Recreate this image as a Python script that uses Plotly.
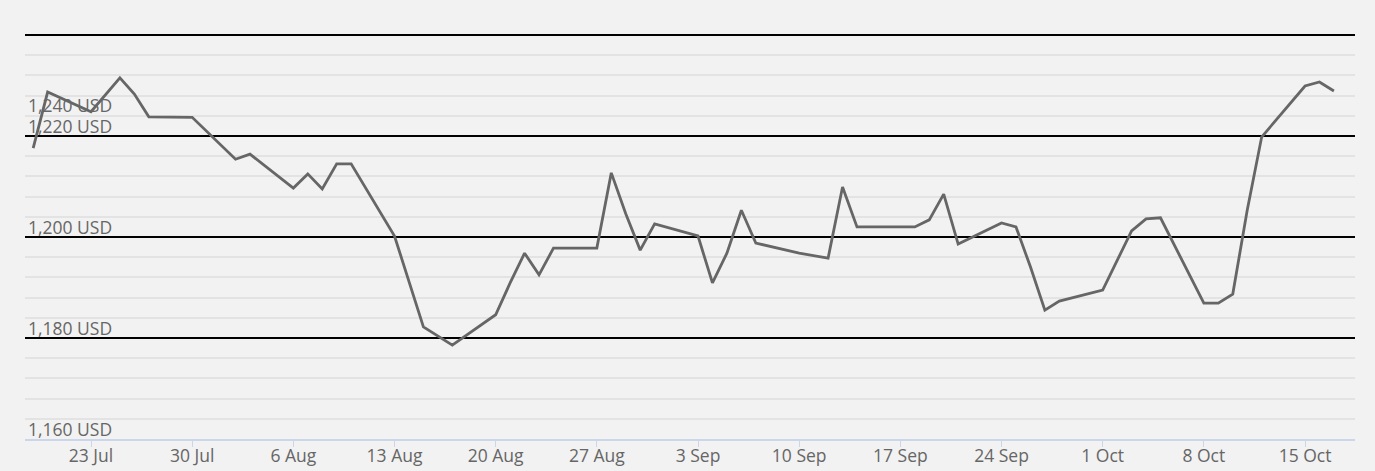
import plotly.graph_objects as go

dates = ["2018-07-19", "2018-07-20", "2018-07-23", "2018-07-25", "2018-07-26", "2018-07-27",
         "2018-07-30", "2018-08-02", "2018-08-03", "2018-08-06", "2018-08-07", "2018-08-08",
         "2018-08-09", "2018-08-10", "2018-08-13", "2018-08-15", "2018-08-17", "2018-08-20",
         "2018-08-21", "2018-08-22", "2018-08-23", "2018-08-24", "2018-08-27", "2018-08-28",
         "2018-08-29", "2018-08-30", "2018-08-31", "2018-09-03", "2018-09-04", "2018-09-05",
         "2018-09-06", "2018-09-07", "2018-09-10", "2018-09-12", "2018-09-13", "2018-09-14",
         "2018-09-18", "2018-09-19", "2018-09-20", "2018-09-21", "2018-09-24", "2018-09-25",
         "2018-09-26", "2018-09-27", "2018-09-28", "2018-10-01", "2018-10-03", "2018-10-04",
         "2018-10-05", "2018-10-08", "2018-10-09", "2018-10-10", "2018-10-11", "2018-10-12",
         "2018-10-15", "2018-10-16", "2018-10-17"]
prices = [1217.6, 1228.7, 1224.8, 1231.5, 1228.3, 1223.8,
          1223.7, 1215.4, 1216.4, 1209.7, 1212.5, 1209.5,
          1214.5, 1214.5, 1200.2, 1182.2, 1178.6, 1184.6,
          1190.9, 1196.8, 1192.5, 1197.8, 1197.8, 1212.7,
          1204.6, 1197.4, 1202.6, 1200.2, 1190.9, 1196.8,
          1205.3, 1198.8, 1196.8, 1195.8, 1209.9, 1202.0,
          1202.0, 1203.4, 1208.5, 1198.6, 1202.8, 1202.0,
          1194.1, 1185.5, 1187.3, 1189.5, 1201.2, 1203.6,
          1203.8, 1186.9, 1186.9, 1188.7, 1205.3, 1219.8,
          1229.9, 1230.7, 1228.9]

tick_dates = ["2018-07-23", "2018-07-30", "2018-08-06", "2018-08-13", "2018-08-20", "2018-08-27",
              "2018-09-03", "2018-09-10", "2018-09-17", "2018-09-24", "2018-10-01", "2018-10-08",
              "2018-10-15"]
tick_labels = ["23 Jul", "30 Jul", "6 Aug", "13 Aug", "20 Aug", "27 Aug", "3 Sep", "10 Sep",
               "17 Sep", "24 Sep", "1 Oct", "8 Oct", "15 Oct"]

y_label_values = [1160, 1180, 1200, 1220]
y_label_texts = ["1,160 USD", "1,180 USD", "1,200 USD", "1,220 USD"]
extra_label_value = 1220
extra_label_text = "1,240 USD"

FONT = "Open Sans"
TXT = "#666666"
FS = 17.5

fig = go.Figure()
fig.add_trace(go.Scatter(x=dates, y=prices, mode="lines",
                         line=dict(color="#666666", width=2.8), hoverinfo="x+y"))

annotations = []
for v, t in zip(y_label_values, y_label_texts):
    annotations.append(dict(x=0, xref="paper", y=v, yref="y", text=t, showarrow=False,
                            xanchor="left", yanchor="bottom", xshift=1, yshift=-4,
                            font=dict(family=FONT, size=FS, color=TXT)))
annotations.append(dict(x=0, xref="paper", y=extra_label_value, yref="y", text=extra_label_text,
                        showarrow=False, xanchor="left", yanchor="bottom", xshift=1, yshift=17,
                        font=dict(family=FONT, size=FS, color=TXT)))

fig.update_layout(
    width=1375, height=471,
    paper_bgcolor="#f2f2f2", plot_bgcolor="#f2f2f2",
    margin=dict(l=25, r=20, t=34, b=32),
    showlegend=False,
    annotations=annotations,
    xaxis=dict(
        type="date", automargin=False,
        range=["2018-07-18 10:24", "2018-10-18 11:00"],
        tickmode="array", tickvals=tick_dates, ticktext=tick_labels,
        showgrid=False, zeroline=False,
        showline=True, linecolor="#ccd6eb", linewidth=1.5,
        ticks="outside", ticklen=6, tickcolor="#ccd6eb", tickwidth=1,
        ticklabelstandoff=-6,
        tickfont=dict(family=FONT, size=FS, color=TXT),
    ),
    yaxis=dict(
        automargin=False,
        range=[1160, 1240.2],
        tickmode="array", tickvals=[1180, 1200, 1220, 1240],
        showticklabels=False,
        showgrid=True, gridcolor="#000000", gridwidth=1.5,
        zeroline=False, showline=False,
        minor=dict(dtick=4, tick0=1160, showgrid=True, gridcolor="#e3e3e3", gridwidth=1.5),
    ),
)

fig.write_html("out.html", config={"displayModeBar": False},
               post_script="document.body.style.margin='0px';")
